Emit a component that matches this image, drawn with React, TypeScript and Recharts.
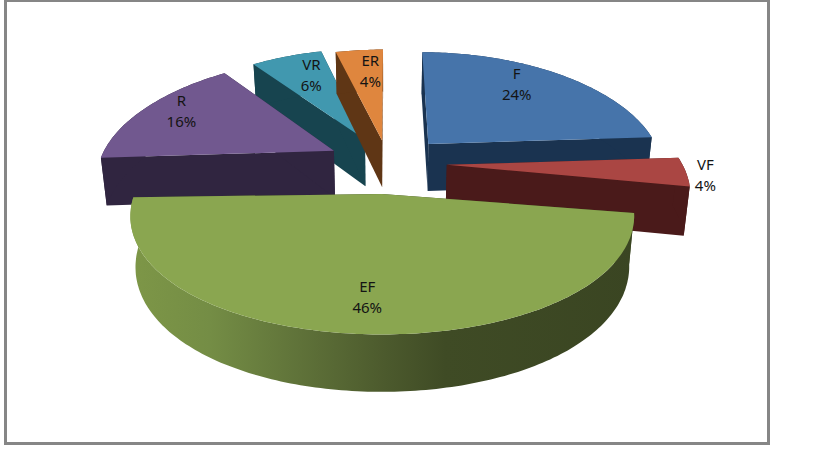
import React from 'react';
import { PieChart, Pie } from 'recharts';

// clockwise from the left edge of R, this is the order the slices sit on the disc
const categories = ['R', 'VR', 'ER', 'F', 'VF', 'EF'];
const shares = [16, 6, 4, 24, 4, 46];

const topColors: Record<string, string> = { R: '#71588F', VR: '#4198AF', ER: '#DF863E', F: '#4674AA', VF: '#AA4643', EF: '#8AA650' };
const wallColors: Record<string, string> = { R: '#302540', VR: '#17444F', ER: '#5F3615', F: '#1A3350', VF: '#4A1A1A', EF: 'url(#efWall)' };

// how far each slice is pulled out of the disc
const explode: Record<string, number> = { R: 0.26, VR: 0.24, ER: 0.21, F: 0.24, VF: 0.25, EF: 0.23 };
// sideways correction in px, the source chart is not quite symmetric
const shiftX: Record<string, number> = { R: 0, VR: 0, ER: 0, F: 3, VF: 0, EF: -2 };

// radial position of each label, plus a small nudge in px
const labelSpots: Record<string, { f: number; dx: number; dy: number }> = {
  R: { f: 0.65, dx: -27, dy: -11 },
  VR: { f: 0.65, dx: 0, dy: -8 },
  ER: { f: 0.65, dx: 4, dy: -8 },
  F: { f: 0.65, dx: -1, dy: -13 },
  VF: { f: 1.2, dx: -29, dy: 2 },
  EF: { f: 0.65, dx: -3, dy: 20 },
};

const data = categories.map((name, i) => ({ name, value: shares[i] }));

const WIDTH = 827;
const HEIGHT = 465;
const TILT = 0.4766; // disc flattening
const PERSP_Y = 0.16;
const PERSP_X = 0.2;
const DEPTH = 48;
const BOTTOM_SHRINK = 0.98;
const RAD = Math.PI / 180;

// disc point -> screen, v grows towards the viewer
function project(cx: number, cy: number, r: number, x: number, v: number, down = false) {
  const s = 1 / (1 - PERSP_Y * v);
  const sx = (r * x) / (1 - PERSP_X * v);
  const sy = r * TILT * v * s;
  if (!down) return [cx + sx, cy + sy];
  return [cx + sx * BOTTOM_SHRINK, cy + sy + DEPTH * (0.8 * s + 0.2)];
}

function poly(points: number[][]) {
  return 'M' + points.map((p) => p[0].toFixed(1) + ',' + p[1].toFixed(1)).join('L') + 'Z';
}

function SliceShape(props: any) {
  const { cy, outerRadius: r, startAngle, endAngle, payload, name } = props;
  const key = payload?.name ?? name;
  const cx = props.cx + shiftX[key];
  // tip of the big front slice sits a little lower than the rim suggests
  const tipGain = key === 'EF' ? 1.15 : 1;
  const mid = ((startAngle + endAngle) / 2) * RAD;
  const ox = explode[key] * Math.cos(mid);
  const ov = -explode[key] * Math.sin(mid);
  const at = (deg: number, down = false) =>
    project(cx, cy, r, ox + Math.cos(deg * RAD), ov - Math.sin(deg * RAD), down);

  const steps = Math.max(2, Math.ceil(Math.abs(endAngle - startAngle)));
  const rimTop: number[][] = [];
  const rimBottom: number[][] = [];
  for (let i = 0; i <= steps; i++) {
    const deg = startAngle + ((endAngle - startAngle) * i) / steps;
    rimTop.push(at(deg));
    rimBottom.push(at(deg, true));
  }
  const apex = project(cx, cy, r, ox * tipGain, ov * tipGain);
  const apexDown = project(cx, cy, r, ox * tipGain, ov * tipGain, true);
  const wall = wallColors[key];
  const flat = key === 'EF' ? '#3C4823' : wall;

  return (
    <g>
      {key === 'EF' && (
        <defs>
          <linearGradient id="efWall" gradientUnits="userSpaceOnUse" x1="135" y1="0" x2="635" y2="0">
            <stop offset="0" stopColor="#7D9647" />
            <stop offset="0.15" stopColor="#748D45" />
            <stop offset="0.33" stopColor="#5F7239" />
            <stop offset="0.5" stopColor="#4C5A2D" />
            <stop offset="0.62" stopColor="#3F4B25" />
            <stop offset="1" stopColor="#3A4522" />
          </linearGradient>
        </defs>
      )}
      <path d={poly([apex, rimTop[0], rimBottom[0], apexDown])} fill={flat} />
      <path d={poly([apex, rimTop[steps], rimBottom[steps], apexDown])} fill={flat} />
      <path d={poly([...rimTop, ...rimBottom.slice().reverse()])} fill={wall} />
      <path d={poly([apex, ...rimTop])} fill={topColors[key]} />
    </g>
  );
}

function SliceLabel(props: any) {
  const { cy, outerRadius: r, midAngle, name, value, payload } = props;
  const key = payload?.name ?? name;
  const cx = props.cx + shiftX[key];
  const spot = labelSpots[key];
  const dist = explode[key] + spot.f;
  const p = project(cx, cy, r, dist * Math.cos(midAngle * RAD), -dist * Math.sin(midAngle * RAD));
  const x = p[0] + spot.dx;
  const y = p[1] + spot.dy;
  return (
    <text x={x} y={y} textAnchor="middle" fontFamily="'Noto Sans', sans-serif" fontSize={15} fill="#141414">
      <tspan x={x} dy={-5}>{key}</tspan>
      <tspan x={x} dy={21}>{value}%</tspan>
    </text>
  );
}

const pieProps = {
  data,
  dataKey: 'value',
  nameKey: 'name',
  cx: 388,
  cy: 163,
  outerRadius: 235,
  startAngle: -176.4,
  endAngle: -536.4,
  paddingAngle: 0,
  stroke: 'none',
  isAnimationActive: false,
};

// VR and ER go behind R, so they get their own pass under the other slices
const backPass = (props: any) => (['VR', 'ER'].includes(props.payload?.name ?? props.name) ? <SliceShape {...props} /> : <g />);
const frontPass = (props: any) => (['VR', 'ER'].includes(props.payload?.name ?? props.name) ? <g /> : <SliceShape {...props} />);

export default function App() {
  return (
    <div style={{ position: 'absolute', left: 0, top: 0, width: WIDTH, height: HEIGHT, background: '#fff' }}>
      <div style={{ position: 'absolute', left: 4, top: -1, width: 760, height: 440, border: '3px solid #868686' }} />
      <div style={{ position: 'absolute', left: 0, top: 0 }}>
        <PieChart width={WIDTH} height={HEIGHT} margin={{ top: 0, right: 0, bottom: 0, left: 0 }}>
          <Pie {...pieProps} shape={backPass} />
          <Pie {...pieProps} shape={frontPass} label={SliceLabel} labelLine={false} />
        </PieChart>
      </div>
    </div>
  );
}
